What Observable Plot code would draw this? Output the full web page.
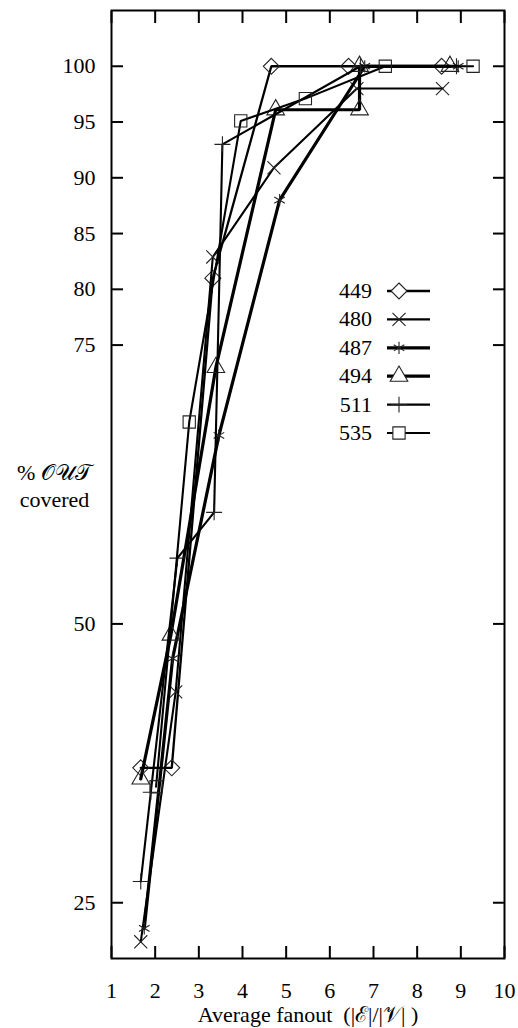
<!DOCTYPE html>
<html><head><meta charset="utf-8">
<script src="https://cdn.jsdelivr.net/npm/d3@7"></script>
<script src="https://cdn.jsdelivr.net/npm/@observablehq/plot@0.6"></script>
<style>body{margin:0;background:#fff}</style>
</head><body><div id="chart"></div>
<script>
// ---- data ----
const xTicks = [1, 2, 3, 4, 5, 6, 7, 8, 9, 10];
const yTicks = [25, 50, 75, 80, 85, 90, 95, 100];
const seriesNames = ["449", "480", "487", "494", "511", "535"];

const x449 = [1.67, 2.38, 3.32, 4.66, 6.43, 8.56];
const y449 = [37.1, 37.1, 81.0, 100, 100, 100];
const x480 = [1.67, 2.47, 3.32, 4.72, 6.62, 8.58];
const y480 = [21.5, 43.9, 82.9, 90.9, 98.0, 98.0];
const x487 = [1.75, 2.40, 3.46, 4.85, 6.80, 8.94];
const y487 = [22.7, 46.9, 66.9, 88.0, 100, 100];
const x494 = [1.67, 2.36, 3.39, 4.76, 6.68, 6.68, 8.75];
const y494 = [36.1, 49.0, 73.0, 96.1, 96.1, 100, 100];
const x511 = [1.67, 1.90, 2.51, 3.35, 3.54, 6.70, 8.90];
const y511 = [26.9, 34.9, 55.9, 60.0, 93.0, 100, 100];
const x535 = [2.02, 2.78, 3.96, 5.44, 7.27, 9.28];
const y535 = [35.4, 68.1, 95.1, 97.1, 100, 100];

const xsAll = [x449, x480, x487, x494, x511, x535];
const ysAll = [y449, y480, y487, y494, y511, y535];

// ---- styles ----
const symbolOf = ["diamond2", "times", "asterisk", "triangle2", "plus", "square2"];
const radiusOf = [7.2, 6, 5.8, 8.4, 5.2, 7.8];
const lineWidthOf = [2.3, 2.1, 3.2, 3.2, 2.1, 2.1];
const FONT = "'Liberation Serif', 'Times New Roman', serif";

const rows = seriesNames.flatMap((s, i) => xsAll[i].map((x, j) => ({series: s, x, y: ysAll[i][j]})));

const seriesMarks = seriesNames.flatMap((s, i) => {
  const d = rows.filter(r => r.series === s);
  return [
    Plot.line(d, {x: "x", y: "y", stroke: "black", strokeWidth: lineWidthOf[i], strokeLinejoin: "miter"}),
    Plot.dot(d, {x: "x", y: "y", symbol: symbolOf[i], r: radiusOf[i], stroke: "#222", strokeWidth: 1.1, fill: "none"})
  ];
});

// legend drawn in pixel space inside the frame
function legendMark() {
  const g = d3.create("svg:g");
  const x0 = 372, lx1 = 387, lx2 = 430, mx = 399, y0 = 291, step = 28.4;
  const symMap = {diamond2: d3.symbolDiamond2, times: d3.symbolTimes, asterisk: d3.symbolAsterisk,
                  triangle2: d3.symbolTriangle2, plus: d3.symbolPlus, square2: d3.symbolSquare2};
  seriesNames.forEach((s, i) => {
    const y = y0 + i * step;
    g.append("text").attr("x", x0).attr("y", y).attr("dy", "0.32em")
      .attr("text-anchor", "end").attr("font-size", 22).attr("font-family", FONT).text(s);
    g.append("line").attr("x1", lx1).attr("x2", lx2).attr("y1", y).attr("y2", y)
      .attr("stroke", "black").attr("stroke-width", lineWidthOf[i]);
    g.append("path").attr("transform", `translate(${mx},${y})`)
      .attr("d", d3.symbol(symMap[symbolOf[i]], Math.PI * radiusOf[i] * radiusOf[i])())
      .attr("fill", "white").attr("stroke", "#222").attr("stroke-width", 1.1);
  });
  return g.node();
}

const chart = Plot.plot({
  width: 518,
  height: 1028,
  marginLeft: 111,
  marginRight: 14,
  marginTop: 10,
  marginBottom: 70,
  style: {fontFamily: FONT, fontSize: "22px", background: "white", color: "black"},
  x: {domain: [1, 10]},
  y: {domain: [20, 105]},
  marks: [
    ...seriesMarks,
    // inward ticks
    Plot.axisX(xTicks, {anchor: "bottom", tickSize: -12, strokeWidth: 2, tickFormat: () => "", label: null}),
    Plot.axisX(xTicks, {anchor: "top", tickSize: -12, strokeWidth: 2, tickFormat: () => "", label: null}),
    Plot.axisY(yTicks, {anchor: "left", tickSize: -12, strokeWidth: 2, tickFormat: () => "", label: null}),
    Plot.axisY(yTicks, {anchor: "right", tickSize: -12, strokeWidth: 2, tickFormat: () => "", label: null}),
    // tick labels
    Plot.axisX(xTicks, {anchor: "bottom", tickSize: 0, tickPadding: 24, fontSize: 22, label: null, tickFormat: d => String(d)}),
    Plot.axisY(yTicks, {anchor: "left", tickSize: 0, tickPadding: 16, fontSize: 22, label: null, tickFormat: d => String(d)}),
    Plot.frame({stroke: "black", strokeWidth: 2}),
    // axis titles
    Plot.text(["Average fanout  (|\u2130|/|\u{1D4B1}| )"], {frameAnchor: "bottom", dy: 56, lineAnchor: "middle", fontSize: 22}),
    Plot.text(["% \u{1D4AA}\u{1D4B0}\u{1D4AF}\ncovered"], {frameAnchor: "left", dx: -57, textAnchor: "middle", lineAnchor: "middle", lineHeight: 1.25, fontSize: 22}),
    legendMark
  ]
});
document.getElementById("chart").appendChild(chart);
</script>
</body></html>
